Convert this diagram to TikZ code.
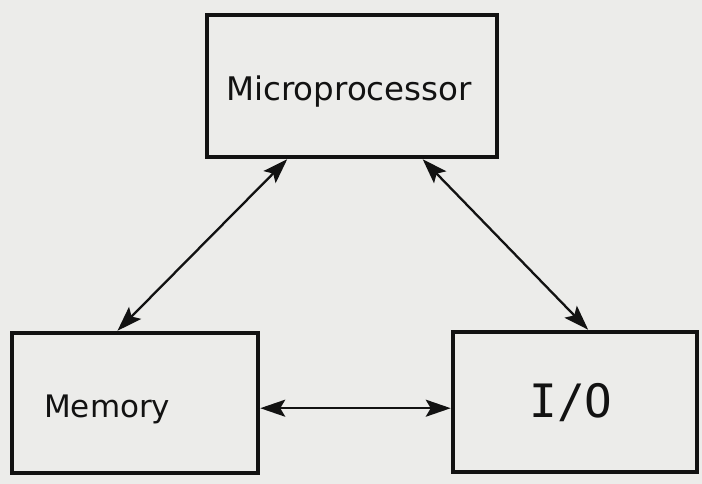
\documentclass[tikz,border=0pt]{standalone}
\usepackage{fontspec}
\setmainfont{DejaVu Sans}
\newfontfamily\monofam{DejaVu Sans Mono}
\usetikzlibrary{arrows.meta,calc}
\definecolor{paper}{RGB}{236,236,234}
\definecolor{ink}{RGB}{18,18,18}
\begin{document}
\begin{tikzpicture}[x=1pt,y=-1pt,
  unit/.style={draw=ink, line width=4.5pt, rectangle, inner sep=0pt},
  lbl/.style={text=ink, inner sep=0pt},
  link/.style={draw=ink, line width=2.3pt,
    {Stealth[length=25pt,width=17pt,inset=5pt]}-{Stealth[length=25pt,width=17pt,inset=5pt]}}]
  % page
  \fill[paper] (0,0) rectangle (702,484);
  \useasboundingbox (0,0) rectangle (702,484);

  % blocks
  \node[unit, minimum width=290pt, minimum height=142pt] (cpu) at (352,86) {};
  \node[unit, minimum width=246pt, minimum height=140pt] (mem) at (135,403) {};
  \node[unit, minimum width=244pt, minimum height=140pt] (io)  at (575,402) {};

  % block names
  \node[lbl, anchor=base, font=\fontsize{32.5}{33}\selectfont] (cpuname) at (349,101) {Microprocessor};
  \node[lbl, anchor=base west, font=\fontsize{31}{31}\selectfont] (memname) at (44,417) {Memory};
  \node[lbl, anchor=base, font=\monofam\fontsize{46}{46}\selectfont] (ioname) at (571,417) {I/O};

  % bus ends
  \coordinate (cpuL) at ($(cpu.south west)!0.28!(cpu.south east)$);
  \coordinate (cpuR) at ($(cpu.south west)!0.74!(cpu.south east)$);
  \coordinate (memT) at ($(mem.north west)!0.43!(mem.north east)$);
  \coordinate (ioT)  at ($(io.north west)!0.553!(io.north east)$);
  \coordinate (memR) at ($(mem.north east)!0.536!(mem.south east)$);
  \coordinate (ioL)  at (io.west |- memR);

  % buses
  \draw[link] (memT) -- (cpuL);
  \draw[link] (cpuR) -- (ioT);
  \draw[link] (memR) -- (ioL);
\end{tikzpicture}
\end{document}
